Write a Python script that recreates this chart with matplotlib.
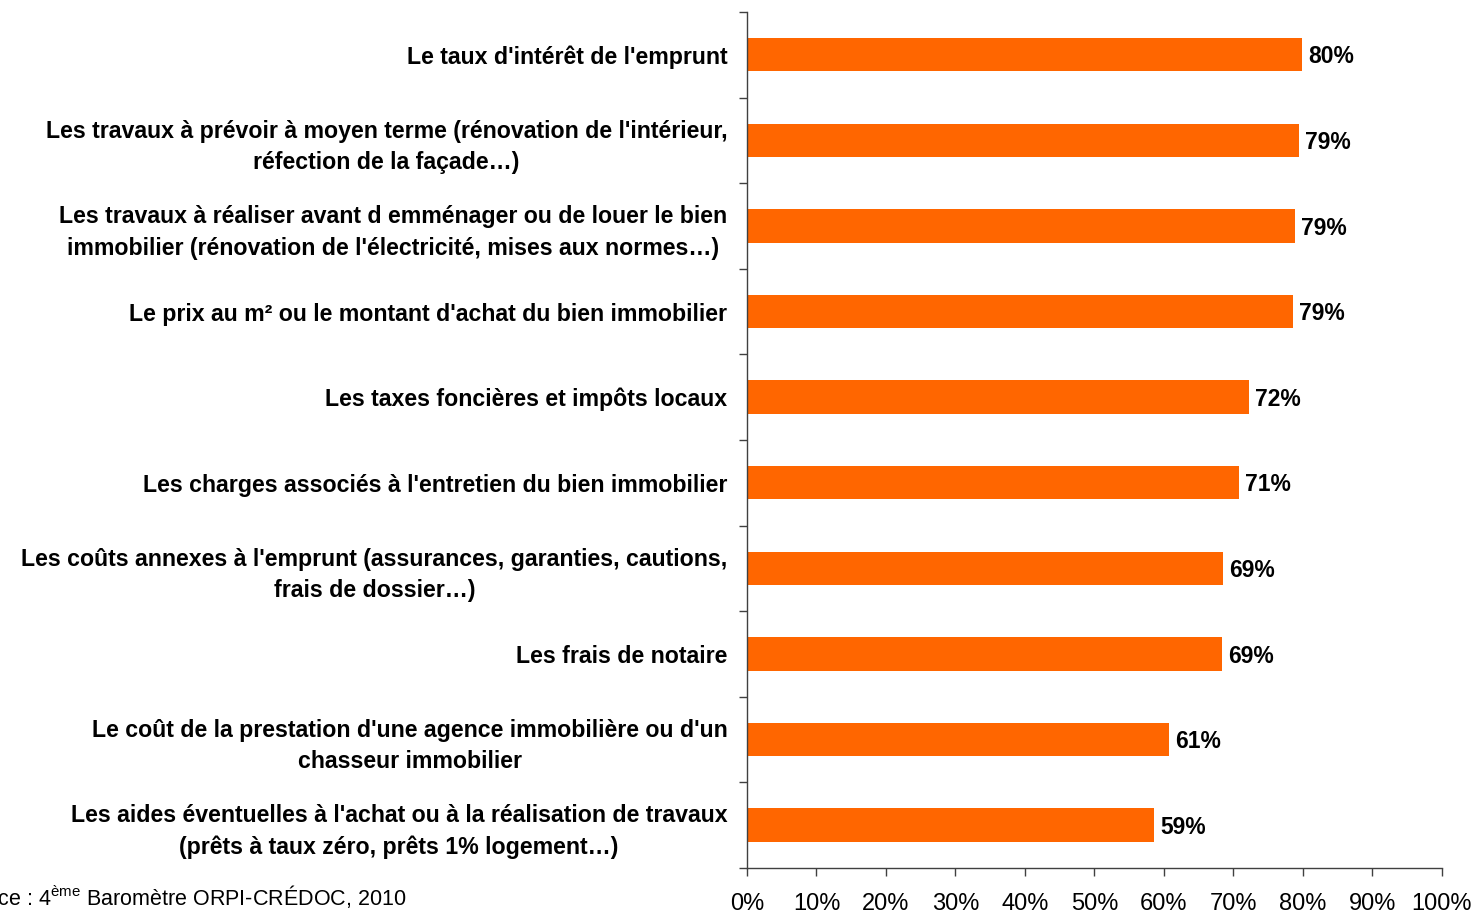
import matplotlib
matplotlib.use('Agg')
import matplotlib.pyplot as plt
import numpy as np

categories = [
    "Le taux d'intérêt de l'emprunt",
    "Les travaux à prévoir à moyen terme (rénovation de l'intérieur,\nréfection de la façade…)",
    "Les travaux à réaliser avant d emménager ou de louer le bien\nimmobilier (rénovation de l'électricité, mises aux normes…)",
    "Le prix au m² ou le montant d'achat du bien immobilier",
    "Les taxes foncières et impôts locaux",
    "Les charges associés à l'entretien du bien immobilier",
    "Les coûts annexes à l'emprunt (assurances, garanties, cautions,\nfrais de dossier…)",
    "Les frais de notaire",
    "Le coût de la prestation d'une agence immobilière ou d'un\nchasseur immobilier",
    "Les aides éventuelles à l'achat ou à la réalisation de travaux\n(prêts à taux zéro, prêts 1% logement…)",
]
values = [79.9, 79.4, 78.8, 78.5, 72.2, 70.8, 68.5, 68.3, 60.7, 58.6]
value_labels = ["80%", "79%", "79%", "79%", "72%", "71%", "69%", "69%", "61%", "59%"]
xticks = [0, 10, 20, 30, 40, 50, 60, 70, 80, 90, 100]
source = "Source : 4$^{\\mathrm{ème}}$ Baromètre ORPI-CRÉDOC, 2010"

plt.rcParams['font.family'] = ['Liberation Sans', 'DejaVu Sans']
plt.rcParams['mathtext.fontset'] = 'custom'
plt.rcParams['mathtext.rm'] = 'Liberation Sans'

fig = plt.figure(figsize=(14.75, 9.15), dpi=100)
ax = fig.add_axes([0.5064, 0.0514, 0.9776 - 0.5064, 0.9869 - 0.0514])

y = np.arange(len(categories))
ax.barh(y, values, height=0.39, color='#FF6600', edgecolor='none')
for yi, v, lab in zip(y, values, value_labels):
    ax.text(v + 0.9, yi + 0.025, lab, va='center', ha='left', fontsize=16.5, fontweight='bold', color='black')

ax.set_xlim(0, 100)
ax.set_ylim(len(categories) - 0.5, -0.5)
ax.set_yticks(y)
ax.set_yticklabels(categories, fontsize=16.7, fontweight='bold', ha='right', multialignment='center', linespacing=1.45)
ax.tick_params(axis='y', which='major', length=0, pad=14)
ax.set_yticks(np.arange(-0.5, len(categories), 1), minor=True)
ax.tick_params(axis='y', which='minor', length=6, width=1, color='#404040', direction='out')

ax.set_xticks(xticks)
ax.set_xticklabels([f"{t}%" for t in xticks], fontsize=17)
ax.tick_params(axis='x', length=6, width=1, color='#404040', direction='out', pad=12)

for s in ['top', 'right']:
    ax.spines[s].set_visible(False)
for s in ['left', 'bottom']:
    ax.spines[s].set_color('#404040')
    ax.spines[s].set_linewidth(1)

fig.text(406 / 1475, 1 - 897 / 915, source, ha='right', va='center', fontsize=15.5)

fig.savefig('out.png', dpi=100)
